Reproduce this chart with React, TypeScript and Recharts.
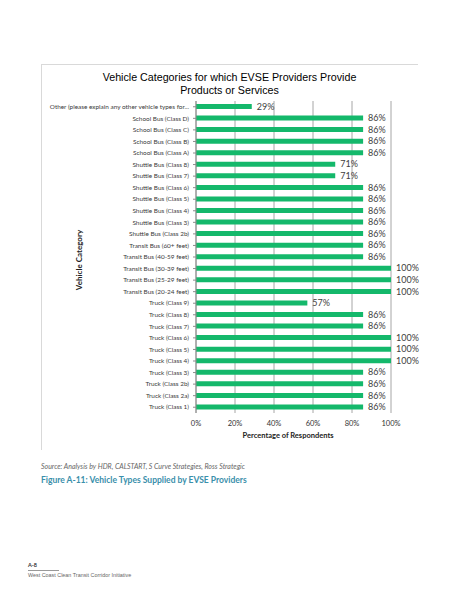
import React from "react";
import { BarChart, Bar, XAxis, YAxis, CartesianGrid, LabelList } from "recharts";

const categories = [
  "Other (please explain any other vehicle types for...",
  "School Bus (Class D)",
  "School Bus (Class C)",
  "School Bus (Class B)",
  "School Bus (Class A)",
  "Shuttle Bus (Class 8)",
  "Shuttle Bus (Class 7)",
  "Shuttle Bus (Class 6)",
  "Shuttle Bus (Class 5)",
  "Shuttle Bus (Class 4)",
  "Shuttle Bus (Class 3)",
  "Shuttle Bus (Class 2b)",
  "Transit Bus (60+ feet)",
  "Transit Bus (40-59 feet)",
  "Transit Bus (30-39 feet)",
  "Transit Bus (25-29 feet)",
  "Transit Bus (20-24 feet)",
  "Truck (Class 9)",
  "Truck (Class 8)",
  "Truck (Class 7)",
  "Truck (Class 6)",
  "Truck (Class 5)",
  "Truck (Class 4)",
  "Truck (Class 3)",
  "Truck (Class 2b)",
  "Truck (Class 2a)",
  "Truck (Class 1)",
];

const values = [
  28.6, 85.7, 85.7, 85.7, 85.7, 71.4, 71.4, 85.7, 85.7, 85.7, 85.7, 85.7, 85.7,
  85.7, 100, 100, 100, 57.1, 85.7, 85.7, 100, 100, 100, 85.7, 85.7, 85.7, 85.7,
];

const xTicks = [0, 20, 40, 60, 80, 100];

const titleLines = ["Vehicle Categories for which EVSE Providers Provide", "Products or Services"];
const xAxisTitle = "Percentage of Respondents";
const yAxisTitle = "Vehicle Category";
const sourceText = "Source: Analysis by HDR, CALSTART, S Curve Strategies, Ross Strategic";
const figureCaption = "Figure A-11: Vehicle Types Supplied by EVSE Providers";
const pageNumber = "A-8";
const footerText = "West Coast Clean Transit Corridor Initiative";

const data = categories.map((name, i) => ({ name, value: values[i] }));

const GREEN = "#14b86b";
const chartFont = "Lato, 'Open Sans', sans-serif";

const CategoryTick = (props: any) => {
  const { x, y, payload } = props;
  return (
    <text
      x={x}
      y={y}
      dy="0.35em"
      textAnchor="end"
      fill="#3a3a3a"
      style={{ fontSize: "6.4px", fontFamily: chartFont }}
    >
      {String(payload.value)}
    </text>
  );
};

export default function App() {
  return (
    <div
      style={{
        position: "absolute",
        left: 0,
        top: 0,
        width: 463,
        height: 599,
        background: "#ffffff",
        overflow: "hidden",
        fontFamily: chartFont,
      }}
    >
      {/* frame */}
      <div style={{ position: "absolute", left: 41, top: 64, width: 377, height: 1, background: "#d9d9d9" }} />
      <div style={{ position: "absolute", left: 41, top: 64, width: 1, height: 386, background: "#d9d9d9" }} />

      {/* title */}
      {titleLines.map((t, i) => (
        <div
          key={i}
          style={{
            position: "absolute",
            left: 41,
            width: 377,
            top: 71 + i * 12.5,
            textAlign: "center",
            fontFamily: "'Liberation Sans', Arial, sans-serif",
            fontSize: 10.7,
            lineHeight: "13px",
            color: "#000",
            whiteSpace: "nowrap",
          }}
        >
          {t}
        </div>
      ))}

      <div style={{ position: "absolute", left: 0, top: 0 }}>
        <BarChart
          width={463}
          height={460}
          data={data}
          layout="vertical"
          margin={{ top: 101, right: 72, bottom: 17, left: 0 }}
        >
          <CartesianGrid horizontal={false} vertical={true} stroke="#a6a6a6" strokeWidth={1} />
          <XAxis
            type="number"
            domain={[0, 100]}
            ticks={xTicks}
            tickFormatter={(v: number) => `${v}%`}
            axisLine={false}
            tickLine={false}
            tickSize={4}
            tickMargin={4}
            height={30}
            interval={0}
            tick={{ fontSize: 7.5, fill: "#333", fontFamily: chartFont }}
          />
          <YAxis
            type="category"
            dataKey="name"
            width={196}
            axisLine={{ stroke: "#8c8c8c" }}
            tickLine={{ stroke: "#8c8c8c" }}
            tickSize={3}
            tickMargin={4}
            interval={0}
            tick={CategoryTick}
          />
          <Bar dataKey="value" fill={GREEN} barSize={5} isAnimationActive={false}>
            <LabelList
              dataKey="value"
              position="right"
              offset={5}
              formatter={(v: number) => `${Math.round(v)}%`}
              style={{ fontSize: 9, fill: "#404040", fontFamily: chartFont }}
            />
          </Bar>
        </BarChart>
      </div>

      {/* axis titles */}
      <div
        style={{
          position: "absolute",
          left: 188,
          width: 200,
          top: 431,
          textAlign: "center",
          fontSize: 7.5,
          fontWeight: 700,
          color: "#222",
          whiteSpace: "nowrap",
        }}
      >
        {xAxisTitle}
      </div>
      <div
        style={{
          position: "absolute",
          left: 79,
          top: 260,
          transform: "translate(-50%, -50%) rotate(-90deg)",
          fontSize: 8,
          fontWeight: 700,
          color: "#222",
          whiteSpace: "nowrap",
        }}
      >
        {yAxisTitle}
      </div>

      {/* caption */}
      <div
        style={{
          position: "absolute",
          left: 41,
          top: 462,
          fontSize: 7,
          fontStyle: "italic",
          color: "#666",
          whiteSpace: "nowrap",
        }}
      >
        {sourceText}
      </div>
      <div
        style={{
          position: "absolute",
          left: 41,
          top: 475,
          fontSize: 8.5,
          fontWeight: 700,
          color: "#3a8fab",
          whiteSpace: "nowrap",
        }}
      >
        {figureCaption}
      </div>

      {/* footer */}
      <div
        style={{
          position: "absolute",
          left: 28,
          top: 562,
          fontSize: 5.5,
          fontWeight: 700,
          color: "#333",
          whiteSpace: "nowrap",
        }}
      >
        {pageNumber}
      </div>
      <div style={{ position: "absolute", left: 28, top: 570, width: 31, height: 1, background: "#999" }} />
      <div
        style={{
          position: "absolute",
          left: 28,
          top: 572,
          fontSize: 5.4,
          fontFamily: "'Liberation Sans Narrow', 'Liberation Sans', sans-serif",
          color: "#666",
          whiteSpace: "nowrap",
        }}
      >
        {footerText}
      </div>
    </div>
  );
}
